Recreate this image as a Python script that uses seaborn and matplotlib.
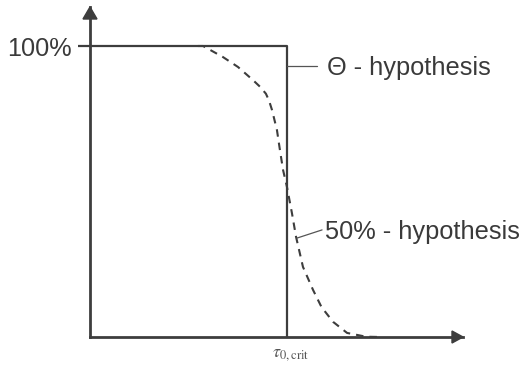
import numpy as np
import pandas as pd
import matplotlib
matplotlib.use("Agg")
import matplotlib.pyplot as plt
from matplotlib.patches import Polygon
import seaborn as sns

# ---- data (x in units of tau_0,crit, y as fraction of 100%) ----
theta_x = [0.0, 1.0, 1.0]
theta_y = [1.0, 1.0, 0.0]

half_x = [0.548, 0.574, 0.675, 0.751, 0.827, 0.863, 0.893, 0.909, 0.924, 0.949,
          0.964, 0.980, 1.000, 1.025, 1.046, 1.081, 1.132, 1.175, 1.234, 1.305,
          1.401, 1.472]
half_y = [1.000, 1.000, 0.962, 0.928, 0.883, 0.860, 0.836, 0.812, 0.780, 0.711,
          0.643, 0.574, 0.515, 0.426, 0.344, 0.241, 0.162, 0.103, 0.052, 0.014,
          0.001, 0.000]

y_ticks = [1.0]
y_tick_labels = ["100%"]
x_tick = 1.0
x_tick_label = r"$\tau_{0,\mathrm{crit}}$"
label_theta = "Θ - hypothesis"
label_half = "50% - hypothesis"

sns.set_style("white")
plt.rcParams["font.family"] = ["Liberation Sans", "DejaVu Sans"]
plt.rcParams["mathtext.fontset"] = "stix"

LINE = "#3d3d3d"
TEXT = "#3a3a3a"

W, H = 527, 367
fig = plt.figure(figsize=(W / 100, H / 100), dpi=100)
ax_l, ax_b, ax_w, ax_h = 90, 30, 373, 330
ax = fig.add_axes([ax_l / W, ax_b / H, ax_w / W, ax_h / H])

xmax = ax_w / 197.0
ymax = ax_h / 291.0
ax.set_xlim(0, xmax)
ax.set_ylim(0, ymax)

df_theta = pd.DataFrame({"x": theta_x, "y": theta_y})
df_half = pd.DataFrame({"x": half_x, "y": half_y})

sns.lineplot(data=df_theta, x="x", y="y", sort=False, estimator=None,
             color=LINE, lw=1.6, ax=ax, clip_on=False)
ln = sns.lineplot(data=df_half, x="x", y="y", sort=False, estimator=None,
                  color=LINE, lw=1.5, ax=ax, clip_on=False)
ln.lines[-1].set_dashes((3.6, 2.9))
ln.lines[-1].set_solid_joinstyle("round")

ax.set_xlabel("")
ax.set_ylabel("")

# spines with arrows
for s in ["top", "right"]:
    ax.spines[s].set_visible(False)
for s in ["left", "bottom"]:
    ax.spines[s].set_color(LINE)
    ax.spines[s].set_linewidth(2.0)

hl_y, hw_y = 12 / ax_h, 7 / ax_w
ax.add_patch(Polygon([[0, 1], [-hw_y, 1 - hl_y], [hw_y, 1 - hl_y]], closed=True,
                     transform=ax.transAxes, color=LINE, clip_on=False, zorder=5))
hl_x, hw_x = 11 / ax_w, 6 / ax_h
ax.add_patch(Polygon([[1, 0], [1 - hl_x, hw_x], [1 - hl_x, -hw_x]], closed=True,
                     transform=ax.transAxes, color=LINE, clip_on=False, zorder=5))

# ticks
ax.set_yticks(y_ticks)
ax.set_yticklabels(y_tick_labels, fontsize=18.2, color=TEXT)
ax.tick_params(axis="y", direction="out", length=8.6, width=1.6, color=LINE,
               pad=4.3, left=True)
ax.set_xticks([])

ax.text(x_tick - 0.076, -0.03, x_tick_label, fontsize=13, color="#555555",
        ha="left", va="top")

# annotations
ax.plot([1.0, 1.152], [0.931, 0.931], color="#555555", lw=0.9, clip_on=False)
ax.text(1.203, 0.924, label_theta, fontsize=18.3, color=TEXT, ha="left", va="center")
ax.plot([1.051, 1.178], [0.340, 0.368], color="#555555", lw=0.9, clip_on=False)
ax.text(1.193, 0.361, label_half, fontsize=18.3, color=TEXT, ha="left", va="center")

fig.savefig("out.png", dpi=100)
